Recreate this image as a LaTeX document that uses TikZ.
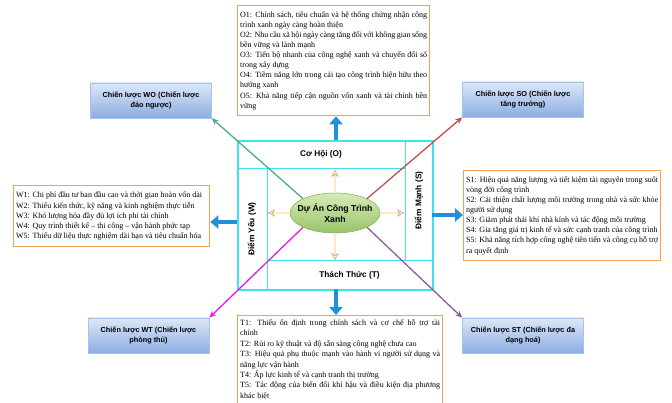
\documentclass[tikz,border=0pt]{standalone}
\usepackage{fontspec}
\setmainfont{Liberation Serif}
\newfontfamily\arialfont{Liberation Sans}
\usetikzlibrary{arrows.meta,shapes.geometric}
\definecolor{boxorange}{RGB}{247,160,85}
\definecolor{framecyan}{HTML}{3EE2F0}
\definecolor{bluearrow}{HTML}{2090DA}
\definecolor{stratdraw}{HTML}{A8C3EA}
\definecolor{strattop}{HTML}{DCE8F8}
\definecolor{stratbot}{HTML}{8CADE2}
\definecolor{ellborder}{HTML}{8DB35F}
\definecolor{elltop}{HTML}{D6EBB8}
\definecolor{ellbot}{HTML}{98C469}
\definecolor{orangearr}{HTML}{E3A055}
\definecolor{orangefill}{HTML}{FCE6CC}
\definecolor{woline}{HTML}{4BAA8C}
\definecolor{soline}{HTML}{C0504D}
\definecolor{wtline}{HTML}{E01FE0}
\definecolor{stline}{HTML}{8A5E9E}
\tolerance=9999
\emergencystretch=0pt
\hbadness=10000
\hfuzz=3pt
\begin{document}
\begin{tikzpicture}[x=1pt,y=-1pt,
  listbox/.style={draw=boxorange, line width=1.3pt, fill=white, anchor=north west,
    inner sep=2.5pt, align=justify, font=\fontsize{8}{10.1}\selectfont},
  stratbox/.style={draw=stratdraw, line width=0.6pt, top color=strattop, bottom color=stratbot,
    minimum width=121pt, minimum height=35pt, align=center, inner sep=2pt,
    font=\arialfont\bfseries\fontsize{7.3}{9.8}\selectfont},
  bandlbl/.style={font=\arialfont\bfseries\fontsize{8.3}{10}\selectfont, inner sep=1pt},
  innerline/.style={draw=framecyan, line width=1pt},
  barrow/.style={draw=bluearrow, line width=4.5pt, -{Triangle[length=8pt,width=13pt]}},
  oarrow/.style={draw=orangearr, line width=0.5pt, double=orangefill, double distance=1.3pt,
    -{Stealth[length=7pt,width=7.5pt,fill=orangefill]}},
  diag/.style={line width=1.3pt, -{Stealth[length=7pt,width=6pt]}}
]
\useasboundingbox (0,0) rectangle (672,403);

% list boxes
\node[listbox, text width=187pt, minimum height=110pt] (O) at (237,5) {%
O1: Chính sách, tiêu chuẩn và hệ thống chứng nhận công\linebreak trình xanh ngày càng hoàn thiện\par
O2: Nhu cầu xã hội ngày càng tăng đối với không gian sống\linebreak bền vững và lành mạnh\par
O3: Tiến bộ nhanh của công nghệ xanh và chuyển đổi số\linebreak trong xây dựng\par
O4: Tiềm năng lớn trong cải tạo công trình hiện hữu theo\linebreak hướng xanh\par
O5: Khả năng tiếp cận nguồn vốn xanh và tài chính bền\linebreak vững};

\node[listbox, text width=191pt, minimum height=61pt] (W) at (13,185) {%
W1: Chi phí đầu tư ban đầu cao và thời gian hoàn vốn dài\par
W2: Thiếu kiến thức, kỹ năng và kinh nghiệm thực tiễn\par
W3: Khó lượng hóa đầy đủ lợi ích phi tài chính\par
W4: Quy trình thiết kế – thi công – vận hành phức tạp\par
W5: Thiếu dữ liệu thực nghiệm dài hạn và tiêu chuẩn hóa};

\node[listbox, text width=192pt, minimum height=90pt] (S) at (463,170) {%
S1: Hiệu quả năng lượng và tiết kiệm tài nguyên trong suốt\linebreak vòng đời công trình\par
S2: Cải thiện chất lượng môi trường trong nhà và sức khỏe\linebreak người sử dụng\par
S3: Giảm phát thải khí nhà kính và tác động môi trường\par
S4: Gia tăng giá trị kinh tế và sức cạnh tranh của công trình\par
S5: Khả năng tích hợp công nghệ tiên tiến và công cụ hỗ trợ\linebreak ra quyết định};

\node[listbox, text width=200pt, minimum height=88pt, font=\fontsize{8}{10.4}\selectfont] (T) at (237,315) {%
T1: Thiếu ổn định trong chính sách và cơ chế hỗ trợ tài\linebreak chính\par
T2: Rủi ro kỹ thuật và độ sẵn sàng công nghệ chưa cao\par
T3: Hiệu quả phụ thuộc mạnh vào hành vi người sử dụng và\linebreak năng lực vận hành\par
T4: Áp lực kinh tế và cạnh tranh thị trường\par
T5: Tác động của biến đổi khí hậu và điều kiện địa phương\linebreak khác biệt};

% strategy boxes
\node[stratbox] (WO) at (151,100.5) {Chiến lược WO (Chiến lược\\đảo ngược)};
\node[stratbox] (SO) at (523,99.5) {Chiến lược SO (Chiến lược\\tăng trưởng)};
\node[stratbox] (WT) at (148.5,335.5) {Chiến lược WT (Chiến lược\\phòng thủ)};
\node[stratbox] (ST) at (523,335.5) {Chiến lược ST (Chiến lược đa\\dạng hoá)};

% frame
\node[draw=framecyan, line width=1.6pt, minimum width=195pt, minimum height=149pt,
  inner sep=0pt, anchor=north west] (frame) at (237,140) {};
\draw[innerline] (237,169) -- (405,169);
\draw[innerline] (405,140) -- (405,261);
\draw[innerline] (267,261) -- (432,261);
\draw[innerline] (267,169) -- (267,289);

\node[bandlbl] (opp) at (321,154.5) {Cơ Hội (O)};
\node[bandlbl, rotate=90] (stren) at (419,200.5) {Điểm Mạnh (S)};
\node[bandlbl, rotate=90] (weak) at (252,229) {Điểm Yếu (W)};
\node[bandlbl] (thr) at (349.5,275) {Thách Thức (T)};

% blue arrows
\coordinate (bu) at (336,140);
\coordinate (bd) at (336,289);
\coordinate (bl) at (237,222);
\coordinate (br) at (432,215);
\draw[barrow] (bu) -- (bu |- O.south);
\draw[barrow] (bd) -- (bd |- T.north);
\draw[barrow] (bl) -- (bl -| W.east);
\draw[barrow] (br) -- (br -| S.west);

% ellipse
\node[ellipse, draw=ellborder, line width=0.6pt, top color=elltop, bottom color=ellbot,
  minimum width=90pt, minimum height=40pt, inner sep=0pt] (ell) at (335,213) {};

% diagonal lines
\draw[diag, woline] (ell.north west) -- (WO.south east);
\draw[diag, soline] (ell.north east) -- (SO.south west);
\draw[diag, wtline] (ell.south west) -- (WT.north east);
\draw[diag, stline] (ell.south east) -- (ST.north west);

% orange arrows
\coordinate (otop) at (335,170);
\coordinate (obot) at (335,260);
\coordinate (oleft) at (268,213);
\coordinate (oright) at (404,213);
\draw[oarrow] (ell.north) -- (otop);
\draw[oarrow] (ell.south) -- (obot);
\draw[oarrow] (ell.west) -- (oleft);
\draw[oarrow] (ell.east) -- (oright);

\node[align=center, inner sep=0pt, font=\arialfont\bfseries\fontsize{8.7}{11}\selectfont] (elltext)
  at (335,213) {Dự Án Công Trình\\Xanh};
\end{tikzpicture}
\end{document}
